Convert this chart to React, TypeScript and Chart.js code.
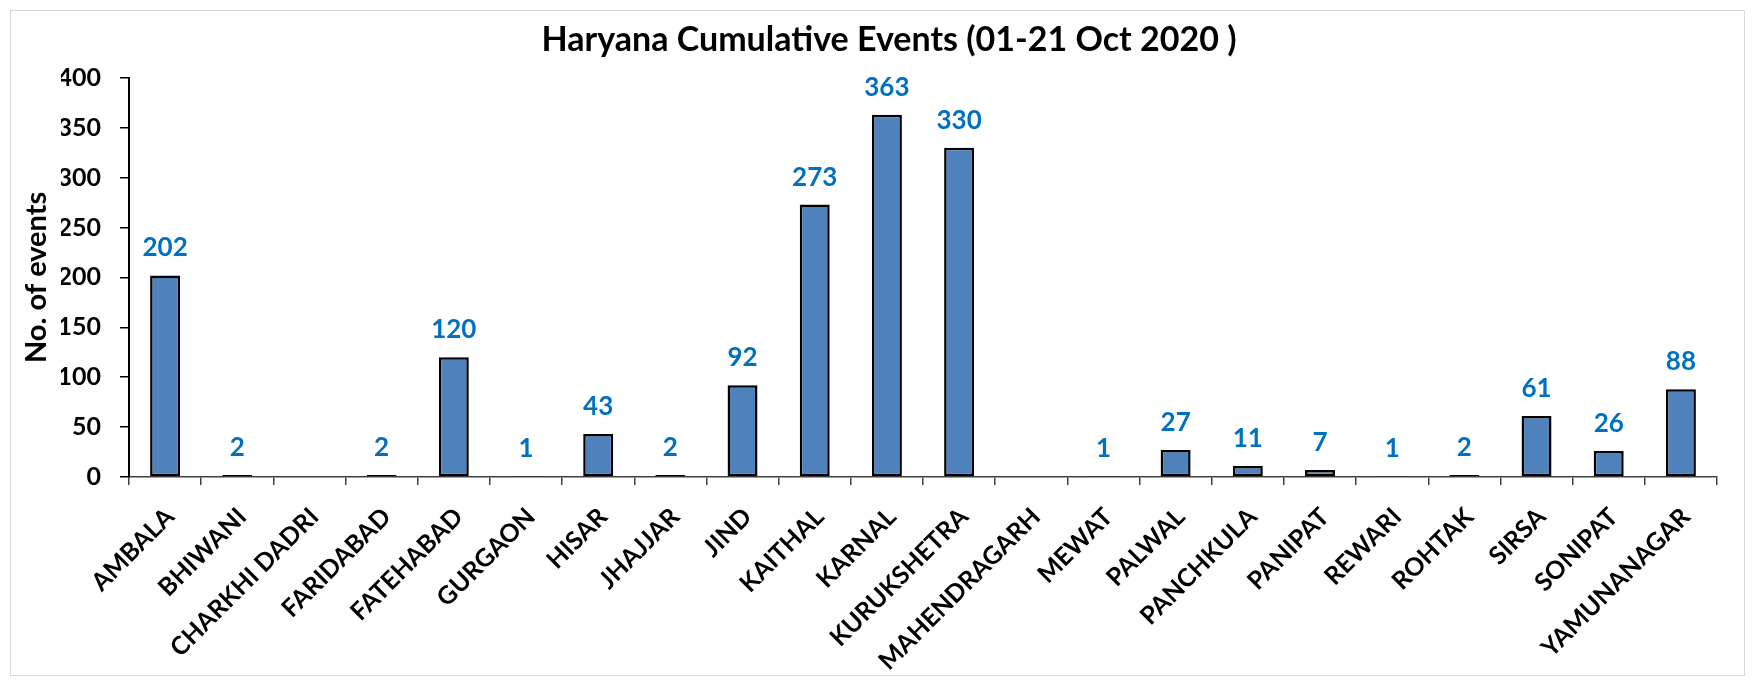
import React, { useEffect, useRef } from "react";
import { Chart, registerables } from "chart.js";

Chart.register(...registerables);

const districts = [
  "AMBALA", "BHIWANI", "CHARKHI DADRI", "FARIDABAD", "FATEHABAD", "GURGAON",
  "HISAR", "JHAJJAR", "JIND", "KAITHAL", "KARNAL", "KURUKSHETRA",
  "MAHENDRAGARH", "MEWAT", "PALWAL", "PANCHKULA", "PANIPAT", "REWARI",
  "ROHTAK", "SIRSA", "SONIPAT", "YAMUNANAGAR",
];
const events = [202, 2, 0, 2, 120, 1, 43, 2, 92, 273, 363, 330, 0, 1, 27, 11, 7, 1, 2, 61, 26, 88];
const yTicks = [0, 50, 100, 150, 200, 250, 300, 350, 400];
const chartTitle = "Haryana Cumulative Events (01-21 Oct 2020 )";
const yTitle = "No. of events";

const FONT = "Lato, 'Open Sans', sans-serif";
const PAD_LEFT = 61;

const valueLabels = {
  id: "valueLabels",
  afterDatasetsDraw(chart: any) {
    const ctx = chart.ctx;
    const meta = chart.getDatasetMeta(0);
    ctx.save();
    ctx.fillStyle = "#0070C0";
    ctx.font = `bold 26px ${FONT}`;
    ctx.textAlign = "center";
    ctx.textBaseline = "alphabetic";
    meta.data.forEach((bar: any, i: number) => {
      const v = events[i];
      if (!v) return;
      ctx.fillText(String(v), bar.x, bar.y - 19);
    });
    ctx.restore();
  },
};

export default function App() {
  const ref = useRef<HTMLCanvasElement>(null);
  useEffect(() => {
    const chart = new Chart(ref.current!, {
      type: "bar",
      data: {
        labels: districts,
        datasets: [
          {
            data: events,
            backgroundColor: "#4F81BD",
            borderColor: "#000000",
            borderWidth: (c: any) => (c.raw === 0 ? 0 : 2.5),
            borderSkipped: false,
            categoryPercentage: 1,
            barPercentage: 0.415,
          },
        ],
      },
      options: {
        responsive: false,
        animation: false,
        layout: { padding: { left: PAD_LEFT, right: 38, top: 0, bottom: 0 } },
        plugins: {
          legend: { display: false },
          tooltip: { enabled: false },
          title: {
            display: true,
            text: chartTitle,
            color: "#000",
            font: { family: FONT, size: 34, weight: "bold" },
            padding: { top: 20, bottom: 17 },
          },
        },
        scales: {
          x: {
            offset: true,
            grid: {
              display: true,
              drawOnChartArea: false,
              drawTicks: true,
              tickLength: 8,
              offset: true,
              color: "#404040",
              lineWidth: 1.5,
            },
            border: { display: true, color: "#404040", width: 1.5 },
            ticks: {
              autoSkip: false,
              maxRotation: 45,
              minRotation: 45,
              padding: 17,
              labelOffset: 5,
              color: "#000",
              font: { family: FONT, size: 25, weight: "bold" },
            },
            afterFit(scale: any) {
              scale.height = 209;
            },
          },
          y: {
            min: 0,
            max: 400,
            afterBuildTicks(scale: any) {
              scale.ticks = yTicks.map((v) => ({ value: v }));
            },
            grid: {
              display: true,
              drawOnChartArea: false,
              drawTicks: true,
              tickLength: 9,
              color: "#000",
              lineWidth: 1.5,
            },
            border: { display: true, color: "#000", width: 2 },
            ticks: {
              padding: 19,
              color: "#000",
              font: { family: FONT, size: 25, weight: "bold" },
            },
            title: {
              display: true,
              text: yTitle,
              color: "#000",
              font: { family: FONT, size: 29, weight: "bold" },
              padding: { top: 19 - PAD_LEFT, bottom: 0 },
            },
            afterFit(scale: any) {
              scale.width = 129 - PAD_LEFT;
            },
          },
        },
      },
      plugins: [valueLabels],
    });
    return () => chart.destroy();
  }, []);

  return (
    <div style={{ position: "fixed", left: 0, top: 0, width: 1755, height: 686, background: "#fff" }}>
      <div
        style={{
          position: "absolute",
          left: 10,
          top: 10,
          width: 1735,
          height: 666,
          border: "1.5px solid #d9d9d9",
          boxSizing: "border-box",
        }}
      />
      <canvas ref={ref} width={1755} height={686} style={{ position: "absolute", left: 0, top: 0 }} />
    </div>
  );
}
